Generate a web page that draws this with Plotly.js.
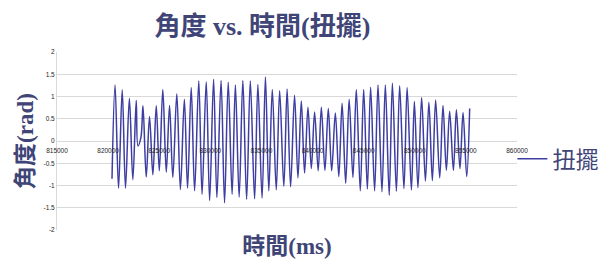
<!DOCTYPE html>
<html>
<head>
<meta charset="utf-8">
<script src="https://cdn.plot.ly/plotly-3.0.1.min.js"></script>
<style>
  html, body { margin: 0; padding: 0; background: #ffffff; }
  #chart { width: 602px; height: 260px; }
</style>
</head>
<body>
<div id="chart"></div>
<script>
// Time (ms) of each sampled extreme of the torsion-pendulum trace
const timeMs = [
  820380, 820680, 821020, 821380, 821700, 822080, 822420, 822750, 822920, 823210,
  823410, 823730, 824050, 824380, 824710, 825010, 825350, 825690, 826010, 826330,
  826720, 827070, 827460, 827770, 828130, 828460, 828870, 829190, 829600, 829930,
  830320, 830640, 831050, 831390, 831750, 832130, 832450, 832820, 833180, 833550,
  833910, 834330, 834650, 835060, 835390, 835720, 836060, 836450, 836780, 837190,
  837510, 837850, 838240, 838570, 838900, 839220, 839550, 839880, 840200, 840550,
  840860, 841210, 841540, 841870, 842230, 842570, 842890, 843240, 843580, 843950,
  844280, 844670, 845000, 845360, 845680, 846070, 846400, 846790, 847120, 847500,
  847810, 848200, 848520, 848940, 849250, 849670, 849960, 850310, 850670, 851040,
  851380, 851720, 852040, 852440, 852760, 853090, 853410, 853780, 854070, 854420,
  854720, 855080, 855370
];
// Angle (rad)
const angleRad = [
  -0.85, 1.26, -1.06, 1.15, -1.06, 0.96, -0.87, 0.91, -0.11, 0.08,
  0.79, -0.81, 0.55, -0.76, 0.79, -0.67, 1.16, -0.70, 0.80, -0.82,
  1.06, -1.09, 0.94, -1.06, 1.20, -1.12, 1.35, -1.20, 1.33, -1.34,
  1.39, -1.27, 1.36, -1.39, 1.32, -1.20, 1.26, -1.26, 1.36, -1.31,
  1.35, -1.30, 1.27, -1.28, 1.44, -1.12, 1.16, -1.10, 1.13, -1.02,
  1.17, -1.03, 1.03, -0.83, 0.90, -0.72, 0.76, -0.62, 0.65, -0.67,
  0.76, -0.66, 0.73, -0.67, 0.63, -0.80, 0.85, -0.95, 0.94, -0.82,
  1.16, -1.12, 1.16, -1.08, 1.21, -1.12, 1.26, -1.14, 1.26, -1.22,
  1.30, -1.13, 1.24, -1.07, 1.20, -1.10, 0.89, -1.05, 0.98, -0.90,
  0.87, -0.89, 0.92, -0.83, 0.80, -0.66, 0.67, -0.66, 0.70, -0.62,
  0.64, -0.80, 0.73
];

const seriesName = '扭擺';
const chartTitle = '角度 vs. 時間(扭擺)';
const xTitle = '時間(ms)';
const yTitle = '角度(rad)';

const xTickVals = [815000, 820000, 825000, 830000, 835000, 840000, 845000, 850000, 855000, 860000];
const xTickText = ['815000', '820000', '825000', '830000', '835000', '840000', '845000', '850000', '855000', '860000'];
const yTickVals = [2, 1.5, 1, 0.5, 0, -0.5, -1, -1.5, -2];
const yTickText = ['2', '1.5', '1', '0.5', '0', '-0.5', '-1', '-1.5', '-2'];

const navy = '#3f4577';
const titleFamily = '"Liberation Serif", "Noto Sans CJK TC", serif';
const tickFont = { family: '"Liberation Sans", Arial, sans-serif', size: 6.5, color: '#262626' };

const trace = {
  x: timeMs,
  y: angleRad,
  type: 'scatter',
  mode: 'lines',
  name: seriesName,
  line: { color: '#3d3da2', width: 1.5, shape: 'spline', smoothing: 1.0 },
  xaxis: 'x',
  yaxis: 'y',
  showlegend: true
};

// empty helper trace so the mid-height tick-label axis is drawn
const axisHelper = {
  x: [], y: [], type: 'scatter', mode: 'lines',
  xaxis: 'x2', yaxis: 'y', showlegend: false, hoverinfo: 'skip'
};

const layout = {
  width: 602,
  height: 260,
  paper_bgcolor: '#ffffff',
  plot_bgcolor: '#ffffff',
  margin: { l: 57, r: 85, t: 52, b: 30, pad: 0, autoexpand: false },
  title: {
    text: chartTitle,
    font: { family: titleFamily, size: 26, color: navy, weight: 'bold' },
    x: 0.436, xanchor: 'center', xref: 'container',
    y: 0.9, yanchor: 'middle', yref: 'container',
    automargin: false
  },
  xaxis: {
    range: [815000, 860000],
    anchor: 'y',
    showticklabels: false,
    showgrid: false,
    zeroline: false,
    showline: false,
    ticks: '',
    title: { text: xTitle, font: { family: titleFamily, size: 23, color: navy, weight: 'bold' }, standoff: 7 },
    automargin: false
  },
  xaxis2: {
    range: [815000, 860000],
    overlaying: 'x',
    anchor: 'free',
    position: 0.5,
    side: 'bottom',
    tickvals: xTickVals,
    ticktext: xTickText,
    tickfont: tickFont,
    ticklabelstandoff: 4,
    showgrid: false,
    zeroline: false,
    showline: false,
    ticks: '',
    automargin: false
  },
  yaxis: {
    range: [-2, 2],
    tickvals: yTickVals,
    ticktext: yTickText,
    tickfont: tickFont,
    showgrid: true,
    gridcolor: '#d9d9d9',
    gridwidth: 1,
    zeroline: false,
    showline: true,
    linecolor: '#d9d9d9',
    linewidth: 1,
    ticks: '',
    title: { text: yTitle, font: { family: titleFamily, size: 23, color: navy, weight: 'bold' }, standoff: 3 },
    automargin: false
  },
  legend: {
    x: 0.99, xanchor: 'left', xref: 'paper',
    y: 0.40, yanchor: 'middle', yref: 'paper',
    font: { family: titleFamily, size: 23, color: navy },
    bgcolor: 'rgba(0,0,0,0)',
    itemwidth: 30,
    traceorder: 'normal'
  },
  showlegend: true
};

Plotly.newPlot('chart', [trace, axisHelper], layout, { displayModeBar: false, staticPlot: true });
</script>
</body>
</html>
